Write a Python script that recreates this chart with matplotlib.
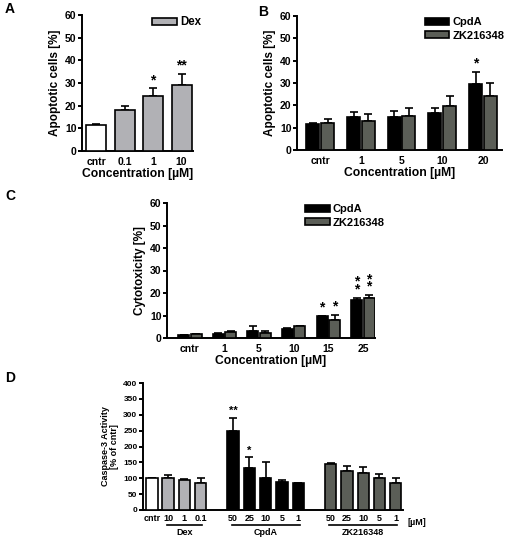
import numpy as np
import matplotlib
matplotlib.use('Agg')
import matplotlib.pyplot as plt
import matplotlib.transforms as mtransforms
from matplotlib.patches import Patch

plt.rcParams['font.family'] = ['Liberation Sans', 'DejaVu Sans']
plt.rcParams['font.weight'] = 'bold'
plt.rcParams['axes.labelweight'] = 'bold'

# ---- data ----
# A: Dex, apoptotic cells [%]
a_labels = ['cntr', '0.1', '1', '10']
a_vals = [11.3, 18.0, 24.3, 29.2]
a_err = [0.6, 1.8, 3.3, 4.9]
a_stars = ['', '', '*', '**']

# B: CpdA / ZK216348, apoptotic cells [%]
b_labels = ['cntr', '1', '5', '10', '20']
b_cpda = [11.5, 14.8, 14.6, 16.7, 29.5]
b_cpda_err = [0.5, 2.3, 2.8, 2.0, 5.3]
b_zk = [12.1, 13.2, 15.3, 19.5, 24.0]
b_zk_err = [1.8, 2.9, 3.5, 4.8, 6.2]
b_stars_cpda = ['', '', '', '', '*']

# C: cytotoxicity [%]
c_labels = ['cntr', '1', '5', '10', '15', '25']
c_cpda = [1.3, 1.9, 3.2, 4.2, 9.6, 17.0]
c_cpda_err = [0.1, 0.2, 2.0, 0.2, 0.2, 0.9]
c_zk = [1.6, 2.8, 2.2, 5.2, 7.8, 17.6]
c_zk_err = [0.3, 0.2, 1.0, 0.3, 2.5, 1.4]
c_stars_cpda = ['', '', '', '', '*', '*\n*']
c_stars_zk = ['', '', '', '', '*', '*\n*']

# D: caspase-3 activity [% of cntr]
d_cntr = 100
d_dex_labels = ['10', '1', '0.1']
d_dex = [101, 93, 86]
d_dex_err = [8, 5, 15]
d_cpda_labels = ['50', '25', '10', '5', '1']
d_cpda = [248, 131, 100, 87, 84]
d_cpda_err = [43, 36, 52, 9, 1]
d_cpda_stars = ['**', '*', '', '', '']
d_zk_labels = ['50', '25', '10', '5', '1']
d_zk = [146, 122, 118, 100, 84]
d_zk_err = [3, 17, 19, 12, 18]

DEX = '#b1b1b5'
ZK = '#5b5e57'
CPDA = '#000000'
EW = 1.2


def frac(l, t, r, b):
    return [l / 510, 1 - b / 544, (r - l) / 510, (b - t) / 544]


def style(ax, tsize=7.5):
    ax.spines[['top', 'right']].set_visible(False)
    ax.spines[['left', 'bottom']].set_linewidth(1.4)
    ax.tick_params(axis='y', length=3, width=1.4, labelsize=tsize, pad=1)
    ax.tick_params(axis='x', length=0, labelsize=tsize, pad=4)


def bars(ax, x, vals, err, color, width, stars=None, star_size=10):
    ax.bar(x, vals, width, color=color, edgecolor='black', linewidth=EW, zorder=3)
    ax.errorbar(x, vals, yerr=[np.zeros(len(vals)), err], fmt='none',
                ecolor='black', elinewidth=1.2, capsize=3, capthick=1.2, zorder=2)
    if stars:
        for xi, v, e, s in zip(x, vals, err, stars):
            if s:
                ax.annotate(s, (xi, v + e), xytext=(0, 1), textcoords='offset points',
                            ha='center', va='bottom', fontsize=star_size,
                            linespacing=0.4)


def legend(ax, handles, anchor, size=8.3):
    ax.legend(handles=handles, loc='upper right', bbox_to_anchor=anchor,
              frameon=False, fontsize=size, handlelength=2.2, handleheight=0.6,
              handletextpad=0.3, labelspacing=0.3, borderaxespad=0.2)


fig = plt.figure(figsize=(5.1, 5.44), dpi=100)

# ---- A ----
axA = fig.add_axes(frac(82, 15, 193, 151))
xa = np.arange(len(a_labels))
bars(axA, xa[:1], a_vals[:1], a_err[:1], 'white', 0.7)
bars(axA, xa[1:], a_vals[1:], a_err[1:], DEX, 0.7, a_stars[1:])
axA.set_xlim(-0.5, 3.4)
axA.set_ylim(0, 60)
axA.set_yticks(range(0, 61, 10))
axA.set_xticks(xa, a_labels)
style(axA)
axA.set_ylabel('Apoptotic cells [%]', fontsize=8.5, labelpad=3)
axA.set_xlabel('Concentration [µM]', fontsize=8.7, labelpad=1)
legend(axA, [Patch(facecolor=DEX, edgecolor='black', linewidth=EW, label='Dex')],
       (1.14, 1.04))

# ---- B ----
axB = fig.add_axes(frac(297, 16, 502, 150))
xb = np.arange(len(b_labels))
bars(axB, xb - 0.18, b_cpda, b_cpda_err, CPDA, 0.32, b_stars_cpda)
bars(axB, xb + 0.18, b_zk, b_zk_err, ZK, 0.32)
axB.set_xlim(-0.57, 4.47)
axB.set_ylim(0, 60)
axB.set_yticks(range(0, 61, 10))
axB.set_xticks(xb, b_labels)
style(axB)
axB.set_ylabel('Apoptotic cells [%]', fontsize=8.5, labelpad=3)
axB.set_xlabel('Concentration [µM]', fontsize=8.7, labelpad=1)
legend(axB, [Patch(facecolor=CPDA, edgecolor='black', linewidth=EW, label='CpdA'),
             Patch(facecolor=ZK, edgecolor='black', linewidth=EW, label='ZK216348')],
       (1.045, 1.04), size=8)

# ---- C ----
axC = fig.add_axes(frac(167, 203, 375, 338))
xc = np.arange(len(c_labels))
bars(axC, xc - 0.18, c_cpda, c_cpda_err, CPDA, 0.32, c_stars_cpda)
bars(axC, xc + 0.18, c_zk, c_zk_err, ZK, 0.32, c_stars_zk)
axC.set_xlim(-0.66, 5.35)
axC.set_ylim(0, 60)
axC.set_yticks(range(0, 61, 10))
axC.set_xticks(xc, c_labels)
style(axC)
axC.set_ylabel('Cytotoxicity [%]', fontsize=8.5, labelpad=3)
axC.set_xlabel('Concentration [µM]', fontsize=8.7, labelpad=1)
legend(axC, [Patch(facecolor=CPDA, edgecolor='black', linewidth=EW, label='CpdA'),
             Patch(facecolor=ZK, edgecolor='black', linewidth=EW, label='ZK216348')],
       (1.08, 1.04), size=8)

# ---- D ----
axD = fig.add_axes(frac(143, 383, 403, 510))
x_dex = np.arange(1, 4)
x_cpda = np.arange(5, 10)
x_zk = np.arange(11, 16)
bars(axD, [0], [d_cntr], [0], 'white', 0.7)
bars(axD, x_dex, d_dex, d_dex_err, DEX, 0.7)
bars(axD, x_cpda, d_cpda, d_cpda_err, CPDA, 0.7, d_cpda_stars, star_size=8)
bars(axD, x_zk, d_zk, d_zk_err, ZK, 0.7)
axD.set_xlim(-0.55, 15.45)
axD.set_ylim(0, 400)
axD.set_yticks(range(0, 401, 50))
axD.set_xticks(np.concatenate([[0], x_dex, x_cpda, x_zk]),
               ['cntr'] + d_dex_labels + d_cpda_labels + d_zk_labels)
style(axD, tsize=6)
axD.tick_params(axis='x', pad=3, labelsize=6.5)
axD.set_ylabel('Caspase-3 Activity\n[% of cntr]', fontsize=6.5, labelpad=3,
               linespacing=1.0)
trD = mtransforms.blended_transform_factory(axD.transData, axD.transAxes)
axD.text(15.75, -0.06, '[µM]', transform=trD, fontsize=6.5, ha='left', va='top')
for xs, name in [(x_dex, 'Dex'), (x_cpda, 'CpdA'), (x_zk, 'ZK216348')]:
    axD.plot([xs[0] - 0.1, xs[-1] + 0.1], [-0.115, -0.115], color='black', lw=1.2,
             transform=trD, clip_on=False)
    axD.text(xs.mean(), -0.145, name, transform=trD, fontsize=6.5, ha='center', va='top')

# panel letters
for lbl, px, py in [('A', 5, 9), ('B', 258, 12), ('C', 5, 196), ('D', 5, 378)]:
    fig.text(px / 510, 1 - py / 544, lbl, fontsize=10, ha='left', va='center')

fig.savefig('out.png', dpi=100)
